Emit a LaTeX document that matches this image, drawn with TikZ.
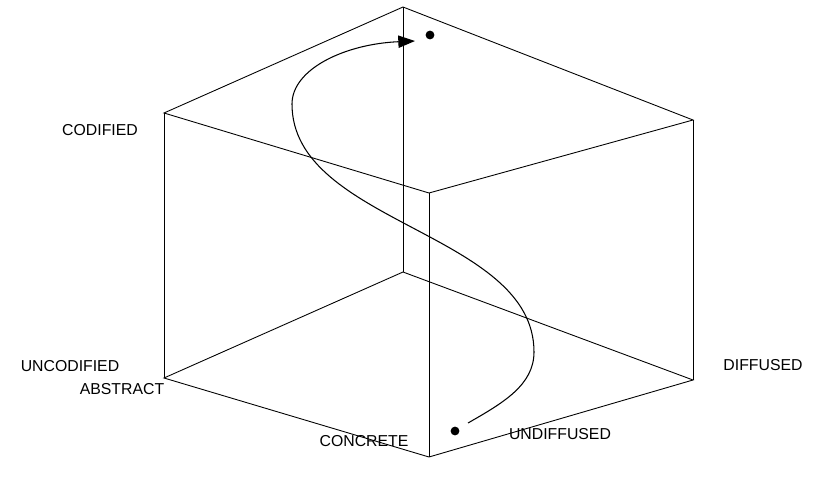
\documentclass[tikz,border=0pt]{standalone}
\usepackage{fontspec}
\setmainfont{Liberation Sans}
\usepackage{tikz}
\usetikzlibrary{arrows.meta, positioning}

\begin{document}
\begin{tikzpicture}[
    x=0.02cm, y=-0.02cm,
    edge/.style={line width=0.5pt, color=black},
    lbl/.style={font=\fontsize{9}{11}\selectfont, inner sep=0pt},
    dot/.style={circle, fill=black, inner sep=0pt, minimum size=5pt},
    arrow/.style={-{Triangle[length=9.5pt, width=7pt]}, line width=0.6pt},
]
\useasboundingbox (0,0) rectangle (819,480);
% cube corners
\coordinate (tb) at (403,7);
\coordinate (tl) at (164,113);
\coordinate (tr) at (693,120);
\coordinate (tf) at (429,193);
\coordinate (bb) at (403,272);
\coordinate (bl) at (164,378);
\coordinate (br) at (693,380);
\coordinate (bf) at (429,457);
% edges
\draw[edge] (tb) -- (tl) -- (tf) -- (tr) -- cycle;
\draw[edge] (bb) -- (bl) -- (bf) -- (br) -- cycle;
\draw[edge] (tb) -- (bb);
\draw[edge] (tl) -- (bl);
\draw[edge] (tf) -- (bf);
\draw[edge] (tr) -- (br);
% labels
\node[lbl] (codified) at (100,130) {CODIFIED};
\node[lbl] (uncodified) at (70,366) {UNCODIFIED};
\node[lbl] (abstract) at (122,389) {ABSTRACT};
\node[lbl] (concrete) at (364,441) {CONCRETE};
\node[lbl] (undiffused) at (560,434) {UNDIFFUSED};
\node[lbl] (diffused) at (763,365) {DIFFUSED};
% dots and path
\node[dot] (low) at (455,431) {};
\node[dot] (high) at (430,35) {};
\coordinate (cstart) at (468,423);
\coordinate (cright) at (534,352);
\coordinate (cleft) at (292,104);
\coordinate (cend) at (415,41);
\draw[arrow] (cstart) .. controls (503,403) and (534,385) .. (cright)
    .. controls (534,232) and (292,224) .. (cleft)
    .. controls (292,69) and (345,44) .. (cend);
\end{tikzpicture}
\end{document}
